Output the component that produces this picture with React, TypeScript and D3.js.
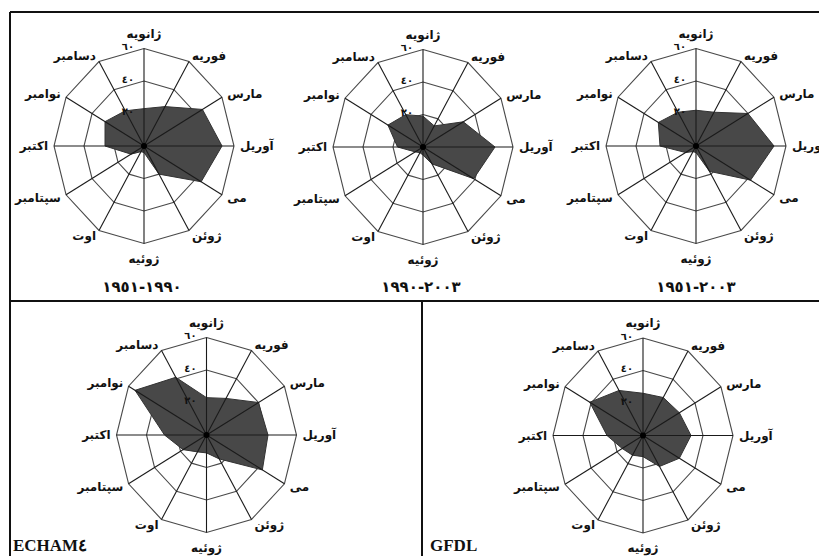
import { useEffect, useRef } from 'react';
import * as d3 from 'd3';

// months clockwise from the top
const months = ['ژانویه', 'فوریه', 'مارس', 'آوریل', 'می', 'ژوئن', 'ژوئیه', 'اوت', 'سپتامبر', 'اکتبر', 'نوامبر', 'دسامبر'];
const ringTicks = [20, 40, 60];
const ringTickLabels = ['٢٠', '٤٠', '٦٠'];

const obs1951to1990 = [23, 28, 45, 52, 44, 20, 4, 4, 10, 26, 30, 25];
const obs1990to2003 = [19, 15, 31, 48, 39, 12, 5, 4, 6, 17, 27, 23];
const obs1951to2003 = [22, 24, 40, 52, 42, 18, 4, 4, 8, 24, 29, 24];
const echam4 = [23, 26, 40, 41, 43, 17, 11, 12, 18, 28, 55, 41];
const gfdl = [26, 27, 28, 32, 28, 22, 13, 14, 16, 24, 41, 32];

const panelTitles = ['١٩٥١-١٩٩٠', '١٩٩٠-٢٠٠٣', '١٩٥١-٢٠٠٣', 'ECHAM٤', 'GFDL'];

const W = 819;
const H = 556;
const persianFont = '"DejaVu Sans", sans-serif';

export default function App() {
  const svgRef = useRef<SVGSVGElement>(null);

  useEffect(() => {
    if (!svgRef.current) return;
    const svg = d3.select(svgRef.current);
    svg.selectAll('*').remove();

    svg.append('rect').attr('width', W).attr('height', H).attr('fill', '#fff');

    const rx = 90;
    const ry = 97.5;
    const rX = d3.scaleLinear().domain([0, 60]).range([0, rx]);
    const rY = d3.scaleLinear().domain([0, 60]).range([0, ry]);
    const angle = d3
      .scaleBand<string>()
      .domain(months)
      .range([0, 2 * Math.PI]);

    const pt = (m: string, v: number): [number, number] => {
      const a = angle(m) || 0;
      return [rX(v) * Math.sin(a), -rY(v) * Math.cos(a)];
    };

    const line = d3.line<[number, number]>().curve(d3.curveLinearClosed);

    const charts = [
      { cx: 144, cy: 146, data: obs1951to1990, title: panelTitles[0], tx: 142, ty: 287, anchor: 'middle' },
      { cx: 423, cy: 147, data: obs1990to2003, title: panelTitles[1], tx: 421, ty: 287, anchor: 'middle' },
      { cx: 696, cy: 146, data: obs1951to2003, title: panelTitles[2], tx: 696, ty: 287, anchor: 'middle' },
      { cx: 206.5, cy: 435, data: echam4, title: panelTitles[3], tx: 13, ty: 551, anchor: 'start' },
      { cx: 643, cy: 435.5, data: gfdl, title: panelTitles[4], tx: 430, ty: 551, anchor: 'start' },
    ];

    charts.forEach((c) => {
      const g = svg.append('g').attr('transform', `translate(${c.cx},${c.cy})`);

      // rings
      g.selectAll('.ring')
        .data(ringTicks)
        .enter()
        .append('path')
        .attr('d', (t) => line(months.map((m) => pt(m, t))))
        .attr('fill', 'none')
        .attr('stroke', '#4a4a4a')
        .attr('stroke-width', 1.1);

      // data polygon
      g.append('path')
        .attr('d', line(months.map((m, i) => pt(m, c.data[i]))))
        .attr('fill', '#484848')
        .attr('stroke', '#333')
        .attr('stroke-width', 1);

      // spokes
      g.selectAll('.spoke')
        .data(months)
        .enter()
        .append('line')
        .attr('x1', 0)
        .attr('y1', 0)
        .attr('x2', (m) => pt(m, 60)[0])
        .attr('y2', (m) => pt(m, 60)[1])
        .attr('stroke', '#1a1a1a')
        .attr('stroke-width', 1.1);

      g.append('circle').attr('r', 3).attr('fill', '#000');

      // ring labels
      g.selectAll('.tick')
        .data(ringTicks)
        .enter()
        .append('text')
        .attr('x', -10)
        .attr('y', (t) => -rY(t) - 2)
        .attr('text-anchor', 'end')
        .attr('dominant-baseline', 'central')
        .style('font-family', persianFont)
        .style('font-weight', 'bold')
        .style('font-size', '10px')
        .style('fill', '#111')
        .text((t, i) => ringTickLabels[i]);

      // month labels
      g.selectAll('.month')
        .data(months)
        .enter()
        .append('text')
        .attr('x', (m) => (rx + 6) * Math.sin(angle(m) || 0))
        .attr('y', (m) => {
          const a = angle(m) || 0;
          const extra = Math.abs(Math.sin(a)) < 0.1 ? 9 * Math.sign(Math.cos(a)) : 0;
          return -(ry + 6) * Math.cos(a) - extra;
        })
        .attr('text-anchor', (m) => {
          const s = Math.sin(angle(m) || 0);
          return s > 0.1 ? 'start' : s < -0.1 ? 'end' : 'middle';
        })
        .attr('dominant-baseline', 'central')
        .style('font-family', persianFont)
        .style('font-weight', 'bold')
        .style('font-size', '12px')
        .style('fill', '#111')
        .text((m) => m);

      svg
        .append('text')
        .attr('x', c.tx)
        .attr('y', c.ty)
        .attr('text-anchor', c.anchor)
        .attr('dominant-baseline', c.anchor === 'middle' ? 'central' : 'auto')
        .style('direction', 'ltr')
        .style('unicode-bidi', 'bidi-override')
        .style('font-family', c.anchor === 'middle' ? persianFont : '"Liberation Serif", serif')
        .style('font-weight', 'bold')
        .style('font-size', c.anchor === 'middle' ? '15px' : '17px')
        .style('fill', '#111')
        .text(c.title);
    });

    // frame
    const frame = [
      [10, 12, 819, 12],
      [10, 12, 10, H],
      [10, 301, 819, 301],
      [422, 301, 422, H],
    ];
    svg
      .selectAll('.frame')
      .data(frame)
      .enter()
      .append('line')
      .attr('x1', (d) => d[0])
      .attr('y1', (d) => d[1])
      .attr('x2', (d) => d[2])
      .attr('y2', (d) => d[3])
      .attr('stroke', '#111')
      .attr('stroke-width', 2);
  }, []);

  return (
    <div style={{ position: 'absolute', left: 0, top: 0 }}>
      <svg ref={svgRef} width={W} height={H} style={{ display: 'block' }} />
    </div>
  );
}
